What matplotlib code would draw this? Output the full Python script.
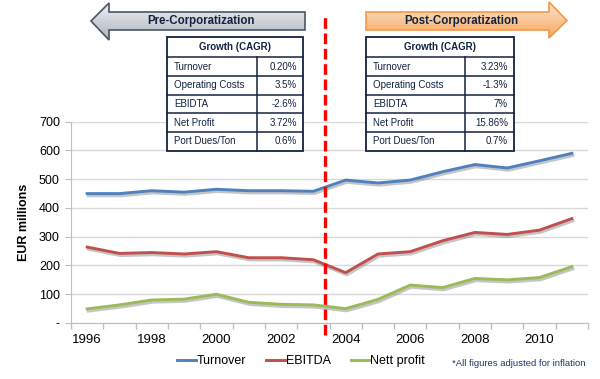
import numpy as np
import matplotlib
matplotlib.use('Agg')
import matplotlib.pyplot as plt
import matplotlib.patheffects as pe
from matplotlib.patches import Polygon, Rectangle
from matplotlib.lines import Line2D

plt.rcParams['font.family'] = ['Liberation Sans', 'DejaVu Sans']

years = ['1996', '1997', '1998', '1999', '2000', '2001', '2002', '2003',
         '2004', '2005', '2006', '2007', '2008', '2009', '2010', '2011']
turnover = [450, 450, 460, 455, 465, 460, 460, 458, 497, 487, 497, 526, 551, 539, 564, 590]
ebitda = [264, 242, 245, 240, 248, 227, 227, 220, 175, 240, 248, 286, 315, 308, 323, 363]
nett_profit = [49, 63, 80, 83, 100, 72, 65, 63, 50, 82, 132, 123, 155, 150, 158, 196]

table_rows = ['Turnover', 'Operating Costs', 'EBIDTA', 'Net Profit', 'Port Dues/Ton']
pre_cagr = ['0.20%', '3.5%', '-2.6%', '3.72%', '0.6%']
post_cagr = ['3.23%', '-1.3%', '7%', '15.86%', '0.7%']

navy = '#13233f'
blue, red, green = '#4f81bd', '#c0504d', '#9bbb59'

fig = plt.figure(figsize=(6, 3.79), dpi=100)
ax = fig.add_axes([71/600, 1-323/379, 517/600, 201.3/379])

x = np.arange(len(years))
shadow = [pe.SimpleLineShadow(offset=(0.8, -1.6), shadow_color='#7f7f7f', alpha=0.45), pe.Normal()]
handles = []
for vals, c, lab in [(turnover, blue, 'Turnover'), (ebitda, red, 'EBITDA'), (nett_profit, green, 'Nett profit')]:
    ax.plot(x, vals, color=c, lw=2.1, path_effects=shadow, zorder=3)
    handles.append(Line2D([], [], color=c, lw=2.1, label=lab))

ax.set_xlim(-0.5, len(years) - 0.5)
ax.set_ylim(0, 700)
ax.set_yticks(range(0, 701, 100))
ax.set_yticklabels(['-'] + [str(v) for v in range(100, 701, 100)])
ax.yaxis.grid(True, color='#d9d9d9', lw=1)
ax.set_axisbelow(True)
ax.set_xticks(x[::2])
ax.set_xticklabels(years[::2])
ax.set_xticks(np.arange(-0.5, len(years)), minor=True)
ax.tick_params(axis='x', which='major', length=0, labelsize=9.5, pad=8)
ax.tick_params(axis='x', which='minor', length=4, color='#bfbfbf', width=1)
ax.tick_params(axis='y', length=4, color='#bfbfbf', labelsize=9, pad=4)
for s in ['top', 'right']:
    ax.spines[s].set_visible(False)
for s in ['left', 'bottom']:
    ax.spines[s].set_color('#bfbfbf')
ax.set_ylabel('EUR millions', fontsize=9, fontweight='bold')
ax.yaxis.set_label_coords(-0.09, 0.5)
ax.yaxis.label.set_va('center')

# corporatization marker
ax.axvline(7.37, ymin=-0.06, ymax=1.53, color='#ff0000', lw=2.4, ls=(0, (3.2, 1.4)),
           clip_on=False, zorder=4)

ax.legend(handles=handles, loc='center', bbox_to_anchor=(0.445, -0.19), ncol=3,
          frameon=False, fontsize=9, handlelength=1.5, handletextpad=0.05, columnspacing=1.6)

# overlay in pixel coordinates for arrows and tables
ov = fig.add_axes([0, 0, 1, 1], zorder=5)
ov.axis('off')
ov.patch.set_visible(False)


def grad_arrow(pts, top_col, bot_col, edge):
    poly = Polygon(pts, closed=True, fc='none', ec=edge, lw=1.2, zorder=6)
    ov.add_patch(poly)
    ys = [p[1] for p in pts]
    xs = [p[0] for p in pts]
    c0 = np.array(matplotlib.colors.to_rgb(top_col))
    c1 = np.array(matplotlib.colors.to_rgb(bot_col))
    t = np.linspace(0, 1, 64)[:, None]
    img = (c0 * (1 - t) + c1 * t)[:, None, :]
    im = ov.imshow(img, extent=[min(xs), max(xs), max(ys), min(ys)], origin='upper',
                   aspect='auto', zorder=5)
    im.set_clip_path(poly)


grad_arrow([(91, 21), (109, 3), (109, 12), (305, 12), (305, 30), (109, 30), (109, 40)],
           '#eef0f3', '#aeb4bd', '#4a5566')
grad_arrow([(366, 12), (549, 12), (549, 2), (567, 20.5), (549, 38), (549, 30), (366, 30)],
           '#fde6cf', '#f8a75f', '#f79646')
ov.set_xlim(0, 600)
ov.set_ylim(379, 0)
ov.text(201.5, 21, 'Pre-Corporatization', ha='center', va='center', fontsize=8.3,
        fontweight='bold', color=navy, zorder=7)
ov.text(461.5, 21, 'Post-Corporatization', ha='center', va='center', fontsize=8.3,
        fontweight='bold', color=navy, zorder=7)

row_edges = [37.3, 57.3, 76, 95, 113.3, 132, 150.7]


def cagr_table(x0, x1, xdiv, vals):
    ov.add_patch(Rectangle((x0, row_edges[0]), x1 - x0, row_edges[-1] - row_edges[0],
                           fc='white', ec=navy, lw=1.3, zorder=6))
    for yy in row_edges[1:-1]:
        ov.plot([x0, x1], [yy, yy], color=navy, lw=1.1, zorder=7)
    ov.plot([xdiv, xdiv], [row_edges[1], row_edges[-1]], color=navy, lw=1.1, zorder=7)
    ov.text((x0 + x1) / 2, (row_edges[0] + row_edges[1]) / 2, 'Growth (CAGR)', ha='center',
            va='center', fontsize=7, fontweight='bold', color=navy, zorder=8)
    for i, (lab, v) in enumerate(zip(table_rows, vals)):
        yc = (row_edges[i + 1] + row_edges[i + 2]) / 2
        ov.text(x0 + 7, yc, lab, ha='left', va='center', fontsize=7, color=navy, zorder=8)
        ov.text(x1 - 6, yc, v, ha='right', va='center', fontsize=7, color=navy, zorder=8)


cagr_table(167, 303, 257, pre_cagr)
cagr_table(366, 514, 465, post_cagr)

ov.text(586, 364, '*All figures adjusted for inflation', ha='right', va='center',
        fontsize=6.8, color='#1f3864', zorder=7)

fig.savefig('out.png', dpi=100)
